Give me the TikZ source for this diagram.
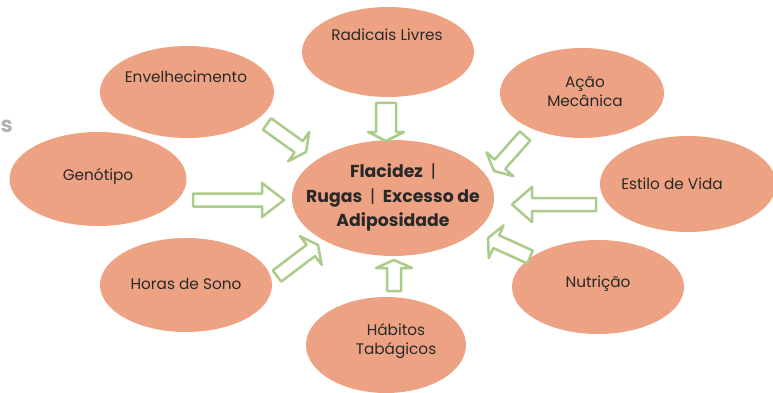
\documentclass[tikz,border=0pt]{standalone}
\usepackage{fontspec}
\setmainfont{Poppins}
\usetikzlibrary{calc,shapes.geometric}
\definecolor{peach}{RGB}{237,163,131}
\definecolor{leaf}{RGB}{170,203,138}
\definecolor{ink}{RGB}{40,40,40}
\definecolor{ghost}{RGB}{178,178,178}
\tikzset{
  blob/.style={ellipse, fill=peach, draw=none, inner sep=0pt},
  lbl/.style={text=ink, font=\fontsize{15.3}{19.5}\selectfont, align=center, inner sep=0pt},
  hub/.style={text=ink, font=\bfseries\fontsize{17.3}{24.5}\selectfont, align=center, inner sep=0pt},
  blockarrow/.style={draw=leaf, line width=2.5pt, fill=white, line join=round}
}
% #1 tail, #2 tip, #3 half shaft, #4 half head, #5 head length, #6 name
\newcommand{\blockarr}[6]{%
  \coordinate (#6h) at ($(#2)!#5!(#1)$);
  \draw[blockarrow] ($(#1)!#3!90:(#2)$) -- ($(#6h)!#3!90:(#2)$) -- ($(#6h)!#4!90:(#2)$)
    -- (#2) -- ($(#6h)!#4!-90:(#2)$) -- ($(#6h)!#3!-90:(#2)$) -- ($(#1)!#3!-90:(#2)$) -- cycle;
}
\newcommand{\sep}{\hspace{0.45em}\textmd{|}\hspace{0.45em}}
\begin{document}
\begin{tikzpicture}[x=1pt,y=-1pt]
\useasboundingbox (0,0) rectangle (773,393);

% ellipses
\node[blob, minimum width=202pt, minimum height=116pt] (hubE) at (393,198) {};
\node[blob, minimum width=172pt, minimum height=90pt] (radE) at (388,52) {};
\node[blob, minimum width=174pt, minimum height=92pt] (envE) at (187,92) {};
\node[blob, minimum width=164pt, minimum height=90pt] (acaoE) at (582,93) {};
\node[blob, minimum width=177pt, minimum height=94pt] (genE) at (98,179) {};
\node[blob, minimum width=176pt, minimum height=96pt] (estE) at (688,184) {};
\node[blob, minimum width=172pt, minimum height=94pt] (horE) at (186,285) {};
\node[blob, minimum width=172pt, minimum height=94pt] (nutE) at (598,287) {};
\node[blob, minimum width=160pt, minimum height=96pt] (habE) at (386,345) {};

% texts
\node[hub] (hubT) at (393,197.5) {Flacidez\sep\\Rugas\sep Excesso de\\Adiposidade};
\node[lbl] (radT) at (387,35) {Radicais Livres};
\node[lbl] (envT) at (186,77) {Envelhecimento};
\node[lbl] (acaoT) at (585,91.5) {Ação\\Mecânica};
\node[lbl] (genT) at (98,176) {Genótipo};
\node[lbl] (estT) at (672,184) {Estilo de Vida};
\node[lbl] (horT) at (186,284) {Horas de Sono};
\node[lbl] (nutT) at (598,284) {Nutrição};
\node[lbl] (habT) at (396,341) {Hábitos\\Tabágicos};

\node[text=ghost, font=\bfseries\fontsize{22}{24}\selectfont, inner sep=0pt, anchor=west] (frag) at (0.5,126) {s};

% arrow end points
\coordinate (a1t) at (386,103);  \coordinate (a1p) at (386,141);
\coordinate (a2t) at (267,124);  \coordinate (a2p) at (306,152);
\coordinate (a3t) at (525,136);  \coordinate (a3p) at (494,171);
\coordinate (a4t) at (193,200);  \coordinate (a4p) at (284,200);
\coordinate (a5t) at (596,204.5);\coordinate (a5p) at (512,204.5);
\coordinate (a6t) at (277,276);  \coordinate (a6p) at (318,245);
\coordinate (a7t) at (530,257);  \coordinate (a7p) at (488,238);
\coordinate (a8t) at (394,291);  \coordinate (a8p) at (394,260);

\blockarr{a1t}{a1p}{10pt}{18pt}{9pt}{ar1}
\blockarr{a2t}{a2p}{7pt}{18pt}{9pt}{ar2}
\blockarr{a3t}{a3p}{7pt}{18pt}{9pt}{ar3}
\blockarr{a4t}{a4p}{6.5pt}{17pt}{22pt}{ar4}
\blockarr{a5t}{a5p}{6.5pt}{17.5pt}{20pt}{ar5}
\blockarr{a6t}{a6p}{7pt}{18pt}{9pt}{ar6}
\blockarr{a7t}{a7p}{7pt}{18pt}{9pt}{ar7}
\blockarr{a8t}{a8p}{7pt}{18pt}{8pt}{ar8}
\end{tikzpicture}
\end{document}
